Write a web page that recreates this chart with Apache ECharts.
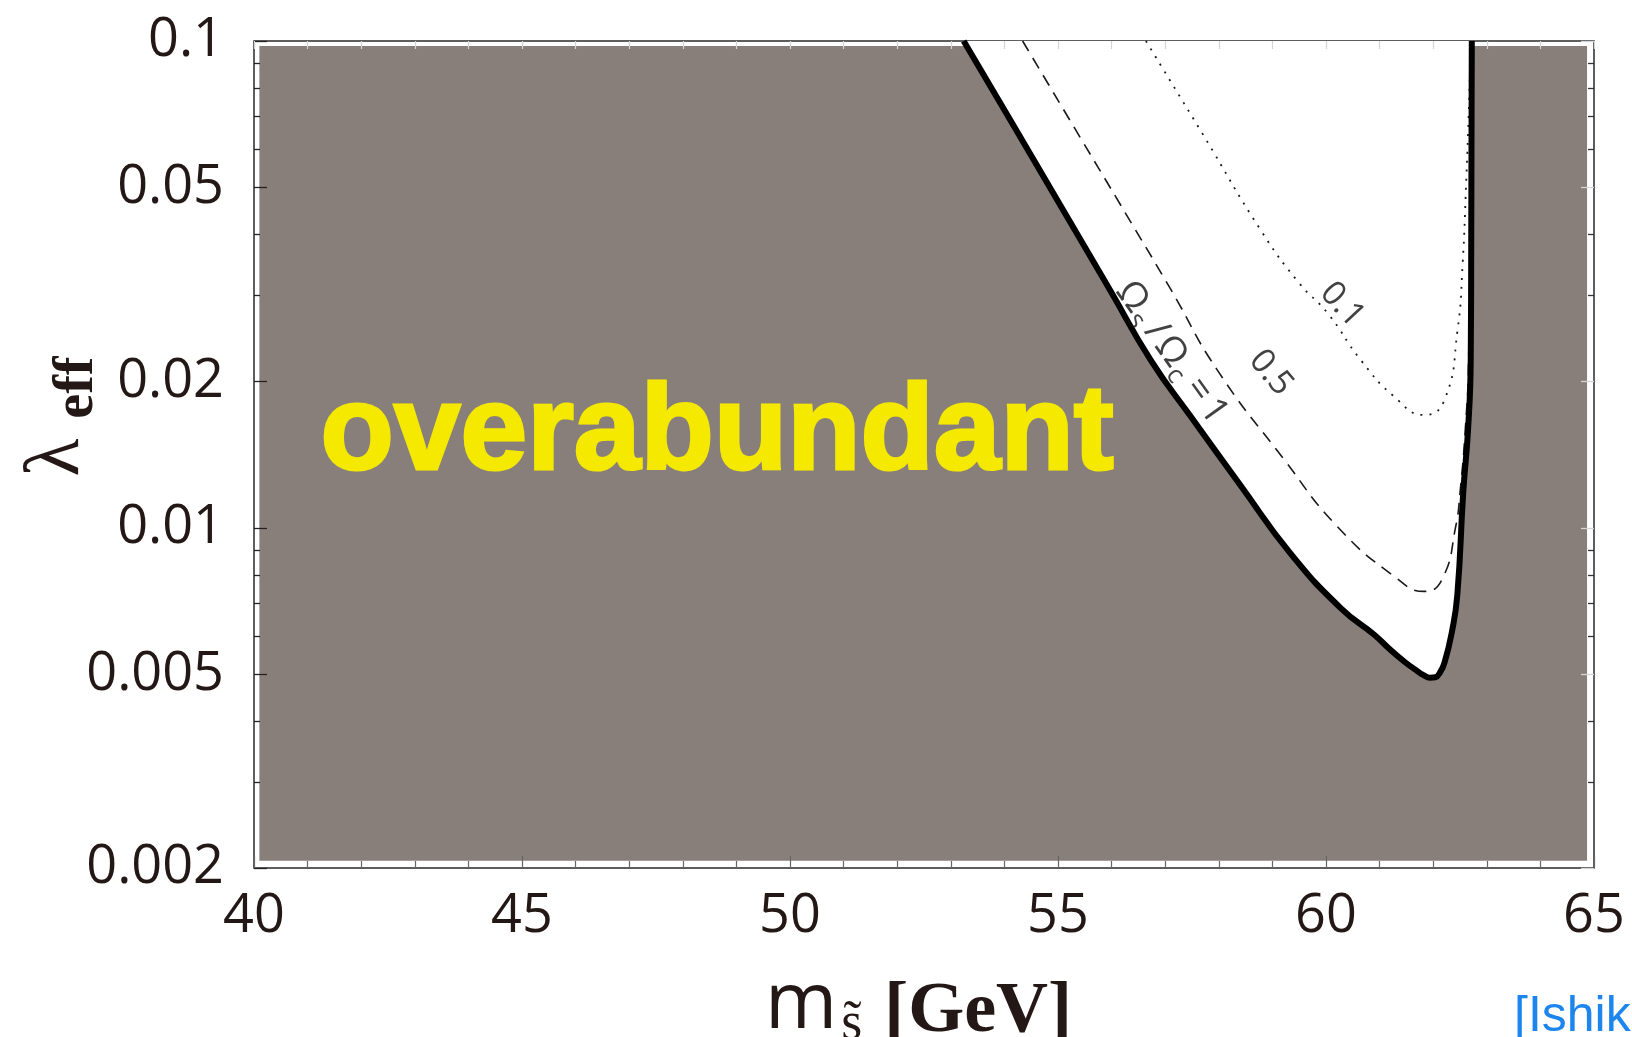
<!DOCTYPE html>
<html>
<head>
<meta charset="utf-8">
<title>Omega_s / Omega_c contours</title>
<script src="https://cdn.jsdelivr.net/npm/echarts@6/dist/echarts.min.js"></script>
<style>
  html, body { margin: 0; padding: 0; background: #fff; }
  #chart { width: 1632px; height: 1037px; }
</style>
</head>
<body>
<div id="chart"></div>
<script>
const xRange = [40, 65];
const yRange = [0.002, 0.1];
const yMajorTicks = [0.002, 0.005, 0.01, 0.02, 0.05, 0.1];
const yTickLabels = ["0.002", "0.005", "0.01", "0.02", "0.05", "0.1"];
const yMinorTicks = [0.003, 0.004, 0.006, 0.007, 0.008, 0.009, 0.03, 0.04, 0.06, 0.07, 0.08, 0.09];

// shaded (overabundant) region, in data units
const shadedX = [40.1, 64.87];
const shadedY = [0.00207, 0.0977];

// Omega_s / Omega_c = 1 (boundary of the allowed region)
const contour1 = [
  [53.24, 0.1], [54.11, 0.0688], [55.15, 0.0439], [55.97, 0.0308], [56.73, 0.0221],
  [57.48, 0.0169], [58.41, 0.0122], [59.34, 0.00885], [60.28, 0.00683], [60.9, 0.00603],
  [61.18, 0.00564], [61.47, 0.0053], [61.68, 0.0051], [61.82, 0.00498], [61.94, 0.00492],
  [62.04, 0.00493], [62.12, 0.00503], [62.21, 0.00528], [62.35, 0.00612], [62.45, 0.00728],
  [62.56, 0.0118], [62.65, 0.0159], [62.7, 0.0221], [62.71, 0.04], [62.715, 0.065], [62.72, 0.1]
];
// Omega_s / Omega_c = 0.5
const contour05 = [
  [54.34, 0.1], [55.22, 0.0688], [56.28, 0.0439], [57.11, 0.0308], [57.97, 0.0211],
  [59.22, 0.0138], [60.21, 0.01006], [61.27, 0.00795], [61.83, 0.0074], [62.17, 0.00785],
  [62.42, 0.01006], [62.5, 0.0118], [62.6, 0.016], [62.66, 0.022], [62.69, 0.05], [62.7, 0.1]
];
// Omega_s / Omega_c = 0.1
const contour01 = [
  [56.64, 0.1], [57.71, 0.0641], [58.78, 0.0409], [59.5, 0.0318], [60.03, 0.0276],
  [60.65, 0.0221], [61.27, 0.0186], [61.83, 0.01705], [62.21, 0.0183], [62.455, 0.0255],
  [62.55, 0.035], [62.61, 0.0494], [62.67, 0.0755], [62.7, 0.1]
];

const ink = "#231815";
const shade = "#897f7a";
const smooth = 0.5;

const yLabelFormatter = (v) => {
  const i = yMajorTicks.findIndex((t) => Math.abs(t - v) / t < 1e-6);
  return i >= 0 ? yTickLabels[i] : "";
};

const logAxis = (extra) => Object.assign({
  type: "log",
  logBase: 10,
  min: yRange[0],
  max: yRange[1],
  z: 10,
  axisLine: { show: false },
  splitLine: { show: false },
  minorTick: { show: false },
  axisLabel: { show: false }
}, extra);

const chart = echarts.init(document.getElementById("chart"));

chart.setOption({
  backgroundColor: "#fff",
  animation: false,
  grid: {
    left: 254,
    right: 38,
    top: 41,
    bottom: 169,
    show: true,
    borderColor: "#2a2a2a",
    borderWidth: 1.5,
    backgroundColor: "transparent",
    outerBoundsMode: "none"
  },
  xAxis: [
    {
      type: "value",
      min: xRange[0],
      max: xRange[1],
      interval: 5,
      position: "bottom",
      z: 10,
      axisLine: { show: false },
      splitLine: { show: false },
      axisTick: { show: true, inside: true, length: 12, lineStyle: { color: "#666", width: 1.2 } },
      minorTick: { show: true, splitNumber: 5, length: 7, lineStyle: { color: "#666", width: 1.2 } },
      axisLabel: {
        margin: 22,
        showMinLabel: true,
        showMaxLabel: true,
        fontFamily: "Open Sans",
        fontSize: 54,
        color: ink
      },
      name: "{m|m}{s|s\u0303}{g|[GeV]}",
      nameLocation: "middle",
      nameGap: 99,
      nameTextStyle: {
        padding: [0, 11, 0, 0],
        rich: {
          m: { fontFamily: "Open Sans", fontSize: 78, lineHeight: 78, verticalAlign: "top", color: ink },
          s: { fontFamily: "Liberation Serif", fontSize: 54, lineHeight: 54, verticalAlign: "top", padding: [31, 0, 0, 4], color: ink },
          g: { fontFamily: "Liberation Serif", fontWeight: "bold", fontSize: 72, lineHeight: 72, verticalAlign: "top", padding: [9, 0, 0, 22], color: ink }
        }
      }
    },
    {
      type: "value",
      min: xRange[0],
      max: xRange[1],
      interval: 5,
      position: "top",
      z: 10,
      axisLine: { show: false },
      splitLine: { show: false },
      axisLabel: { show: false },
      axisTick: { show: true, inside: true, length: 8, lineStyle: { color: "#d4d4d4", width: 1.2 } },
      minorTick: { show: true, splitNumber: 5, length: 8, lineStyle: { color: "#d4d4d4", width: 1.2 } }
    }
  ],
  yAxis: [
    logAxis({
      position: "left",
      axisTick: { show: true, inside: true, length: 13, customValues: yMajorTicks, lineStyle: { color: "#222", width: 1.3 } },
      axisLabel: {
        show: true,
        customValues: yMajorTicks,
        formatter: yLabelFormatter,
        margin: 30,
        fontFamily: "Open Sans",
        fontSize: 54,
        color: ink
      },
      name: "{l|λ}{e|eff}",
      nameLocation: "middle",
      nameRotate: 90,
      nameGap: 157,
      nameMoveOverlap: false,
      nameTextStyle: {
        padding: [0, 0, 0, 76],
        rich: {
          l: { fontFamily: "Liberation Serif", fontSize: 78, lineHeight: 78, verticalAlign: "top", color: ink },
          e: { fontFamily: "Liberation Serif", fontWeight: "bold", fontSize: 56, lineHeight: 56, verticalAlign: "top", padding: [31, 0, 0, 20], color: ink }
        }
      }
    }),
    logAxis({
      position: "left",
      axisTick: { show: true, inside: true, length: 6, customValues: yMinorTicks, lineStyle: { color: "#222", width: 1.3 } }
    }),
    logAxis({
      position: "right",
      axisTick: { show: true, inside: true, length: 13, customValues: yMajorTicks, lineStyle: { color: "#d4d4d4", width: 1.3 } }
    }),
    logAxis({
      position: "right",
      axisTick: { show: true, inside: true, length: 6, customValues: yMinorTicks, lineStyle: { color: "#333", width: 1.3 } }
    })
  ],
  series: [
    {
      // gray overabundant background
      type: "custom",
      z: 1,
      silent: true,
      encode: { x: [0, 1], y: [2, 3] },
      data: [[shadedX[0], shadedX[1], shadedY[0], shadedY[1]]],
      renderItem: (params, api) => {
        const p0 = api.coord([api.value(0), api.value(3)]);
        const p1 = api.coord([api.value(1), api.value(2)]);
        return {
          type: "rect",
          shape: { x: p0[0], y: p0[1], width: p1[0] - p0[0], height: p1[1] - p0[1] },
          style: { fill: shade }
        };
      }
    },
    {
      // allowed (white) region above the Omega = 1 contour
      type: "line",
      z: 2,
      silent: true,
      data: contour1,
      smooth: smooth,
      showSymbol: false,
      lineStyle: { width: 0 },
      areaStyle: { color: "#fff", opacity: 1, origin: "end" }
    },
    {
      type: "line",
      z: 3,
      silent: true,
      data: contour05,
      smooth: smooth,
      showSymbol: false,
      lineStyle: { color: "#1a1a1a", width: 1.6, type: [12, 8] }
    },
    {
      type: "line",
      z: 3,
      silent: true,
      data: contour01,
      smooth: smooth,
      showSymbol: false,
      lineStyle: { color: "#1a1a1a", width: 1.8, type: [2, 7] }
    },
    {
      type: "line",
      z: 4,
      silent: true,
      data: contour1,
      smooth: smooth,
      showSymbol: false,
      lineStyle: { color: "#000", width: 6 }
    },
    {
      // text annotations placed in data coordinates
      type: "scatter",
      z: 6,
      silent: true,
      symbolSize: 1,
      itemStyle: { color: "transparent" },
      label: { show: true, position: "inside", color: "#111", fontFamily: "Open Sans" },
      data: [
        {
          value: [48.64, 0.01546],
          label: {
            formatter: "overabundant",
            fontFamily: "Liberation Sans",
            fontWeight: "bold",
            fontSize: 120,
            color: "#f5e900",
            opacity: 1,
            textBorderColor: "#f5e900",
            textBorderWidth: 3
          }
        },
        {
          value: [57.12, 0.0229],
          label: {
            rotate: -54.5,
            formatter: "{o|Ω}{s|s}{sl|/}{o|Ω}{s|c}{eq|=}{o|1}",
            rich: {
              o: { fontFamily: "Open Sans", fontSize: 37, lineHeight: 37, verticalAlign: "top", color: "#111" },
              s: { fontFamily: "Open Sans", fontSize: 26, lineHeight: 26, verticalAlign: "top", padding: [16, 3, 0, 1], color: "#111" },
              sl: { fontFamily: "Open Sans", fontSize: 37, lineHeight: 37, verticalAlign: "top", padding: [0, 4, 0, 4], color: "#111" },
              eq: { fontFamily: "Open Sans", fontSize: 37, lineHeight: 37, verticalAlign: "top", padding: [0, 5, 0, 6], color: "#111" }
            }
          }
        },
        { value: [58.97, 0.0208], label: { rotate: -50, formatter: "0.5", fontSize: 34 } },
        { value: [60.3, 0.0287], label: { rotate: -47, formatter: "0.1", fontSize: 34 } }
      ]
    }
  ],
  graphic: [
    {
      type: "text",
      left: 1514,
      top: 992,
      style: { text: "[Ishik", font: '50px "Liberation Sans"', fill: "#1c86ee" }
    }
  ]
});
</script>
</body>
</html>
